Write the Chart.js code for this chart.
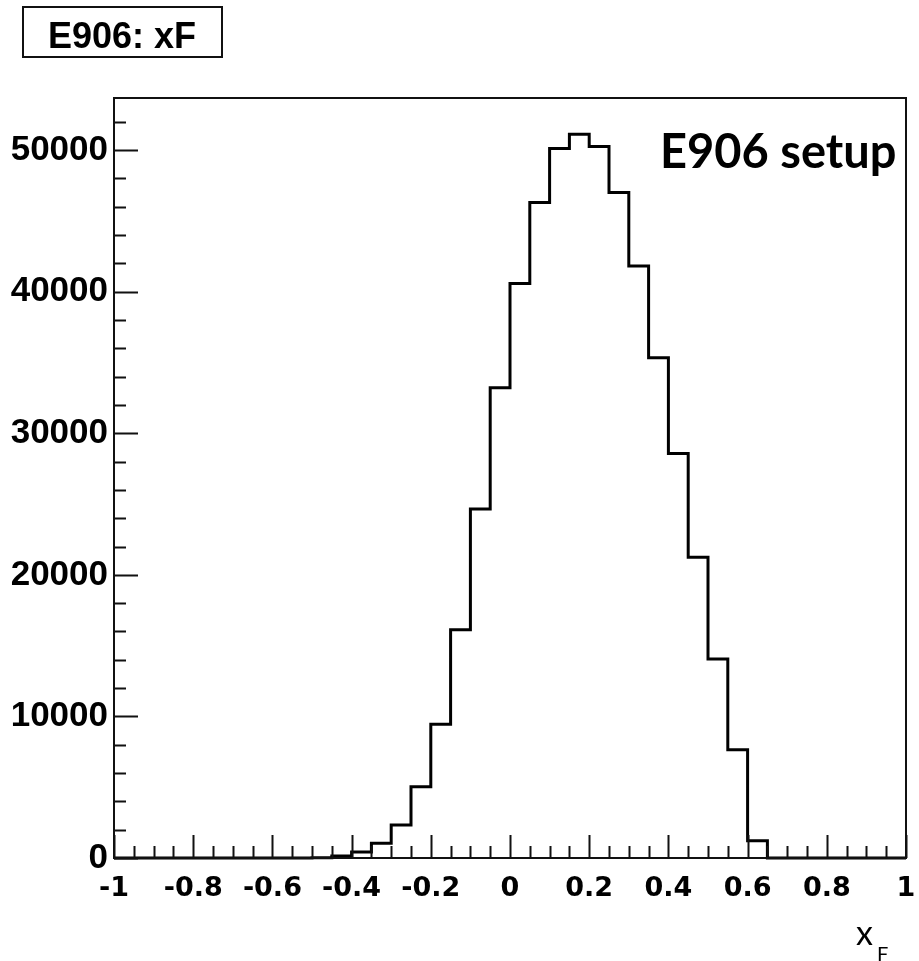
<!DOCTYPE html>
<html>
<head>
<meta charset="utf-8">
<title>E906: xF</title>
<script src="https://cdn.jsdelivr.net/npm/chart.js@4.4.1/dist/chart.umd.min.js"></script>
<style>
  html, body { margin: 0; padding: 0; background: #fff; }
  canvas { display: block; }
</style>
</head>
<body>
<canvas id="c" width="919" height="961"></canvas>
<script>
// Histogram of xF, 40 bins of width 0.05 over [-1, 1]
const binLow = [
  -1.00, -0.95, -0.90, -0.85, -0.80, -0.75, -0.70, -0.65, -0.60, -0.55,
  -0.50, -0.45, -0.40, -0.35, -0.30, -0.25, -0.20, -0.15, -0.10, -0.05,
   0.00,  0.05,  0.10,  0.15,  0.20,  0.25,  0.30,  0.35,  0.40,  0.45,
   0.50,  0.55,  0.60,  0.65,  0.70,  0.75,  0.80,  0.85,  0.90,  0.95
];
const binWidth = 0.05;
const counts = [
      0,     0,     0,     0,     0,     0,     0,     0,     0,     0,
     20,   150,   420,  1040,  2330,  5040,  9450, 16120, 24660, 33220,
  40590, 46300, 50120, 51130, 50260, 47010, 41820, 35340, 28570, 21240,
  14050,  7640,  1220,     0,     0,     0,     0,     0,     0,     0
];

const xTicks = [-1, -0.8, -0.6, -0.4, -0.2, 0, 0.2, 0.4, 0.6, 0.8, 1];
const xTickLabels = ['-1', '-0.8', '-0.6', '-0.4', '-0.2', '0', '0.2', '0.4', '0.6', '0.8', '1'];
const yTicks = [0, 10000, 20000, 30000, 40000, 50000];
const yTickLabels = ['0', '10000', '20000', '30000', '40000', '50000'];

const histTitle = 'E906: xF';
const setupLabel = 'E906 setup';
const axisVar = 'x';
const axisSub = 'F';

// Step outline: a point at each bin's lower edge; 'before' stepping runs
// horizontally at that bin's height up to the next edge, then drops/rises.
const outline = binLow.map((lo, i) => ({ x: lo, y: counts[i] }));
outline.push({ x: binLow[binLow.length - 1] + binWidth, y: 0 });

const yMax = Math.max(...counts) * 1.05;

// Frame, inward tick marks, title box and annotation text
const rootStyle = {
  id: 'rootStyle',
  afterDatasetsDraw(chart) {
    const { ctx, chartArea: a, scales: { x, y } } = chart;
    ctx.save();
    ctx.strokeStyle = '#111';
    ctx.lineWidth = 2;
    ctx.strokeRect(a.left, a.top, a.right - a.left, a.bottom - a.top);

    // x ticks: major every 0.2, minor every 0.05
    ctx.lineWidth = 2;
    ctx.beginPath();
    for (let k = 0; k <= 40; k++) {
      const v = -1 + k * 0.05;
      const px = Math.round(x.getPixelForValue(v)) + 0.5;
      const len = (k % 4 === 0) ? 23 : 12;
      ctx.moveTo(px, a.bottom);
      ctx.lineTo(px, a.bottom - len);
    }
    // y ticks: major every 10000, minor every 2000
    for (let k = 0; k * 2000 <= yMax; k++) {
      const v = k * 2000;
      const py = Math.round(y.getPixelForValue(v)) + 0.5;
      const len = (k % 5 === 0) ? 24 : 12;
      ctx.moveTo(a.left, py);
      ctx.lineTo(a.left + len, py);
    }
    ctx.stroke();

    // title box
    ctx.fillStyle = '#fff';
    ctx.fillRect(23, 7, 199, 50);
    ctx.strokeStyle = '#111';
    ctx.lineWidth = 2;
    ctx.strokeRect(23, 7, 199, 50);
    ctx.fillStyle = '#000';
    ctx.font = 'bold 36px "Liberation Sans", Arial, sans-serif';
    ctx.textAlign = 'center';
    ctx.textBaseline = 'alphabetic';
    ctx.fillText(histTitle, 122, 48);

    // setup label inside the frame
    ctx.textAlign = 'left';
    ctx.font = 'bold 47px Lato, "Open Sans", sans-serif';
    ctx.fillText(setupLabel, 660, 168);

    // axis variable with subscript
    ctx.font = '34px Lato, "Open Sans", sans-serif';
    ctx.fillText(axisVar, 856, 945);
    ctx.font = '20px Lato, "Open Sans", sans-serif';
    ctx.fillText(axisSub, 877, 961);
    ctx.restore();
  }
};

new Chart(document.getElementById('c'), {
  type: 'line',
  data: {
    datasets: [{
      data: outline,
      stepped: 'before',
      borderColor: '#000',
      borderWidth: 3,
      pointRadius: 0,
      fill: false,
      clip: false
    }]
  },
  options: {
    responsive: false,
    devicePixelRatio: 1,
    animation: false,
    layout: { padding: { top: 98, right: 13, left: 0, bottom: 0 } },
    plugins: { legend: { display: false }, tooltip: { enabled: false }, title: { display: false } },
    scales: {
      x: {
        type: 'linear',
        min: -1,
        max: 1,
        grid: { display: false, drawTicks: false },
        border: { display: false },
        afterBuildTicks: (s) => { s.ticks = xTicks.map(v => ({ value: v })); },
        afterFit: (s) => { s.height = 103; s.paddingLeft = 0; s.paddingRight = 0; },
        ticks: {
          autoSkip: false,
          maxRotation: 0,
          padding: 15,
          color: '#000',
          font: { family: '"DejaVu Sans", sans-serif', size: 27, weight: 'bold' },
          callback: (v, i) => xTickLabels[i]
        }
      },
      y: {
        type: 'linear',
        min: 0,
        max: yMax,
        grid: { display: false, drawTicks: false },
        border: { display: false },
        afterBuildTicks: (s) => { s.ticks = yTicks.map(v => ({ value: v })); },
        afterFit: (s) => { s.width = 114; s.paddingTop = 0; s.paddingBottom = 0; },
        ticks: {
          autoSkip: false,
          padding: 6,
          color: '#000',
          font: { family: '"Liberation Sans", Arial, sans-serif', size: 35, weight: 'bold' },
          callback: (v, i) => yTickLabels[i]
        }
      }
    }
  },
  plugins: [rootStyle]
});
</script>
</body>
</html>
